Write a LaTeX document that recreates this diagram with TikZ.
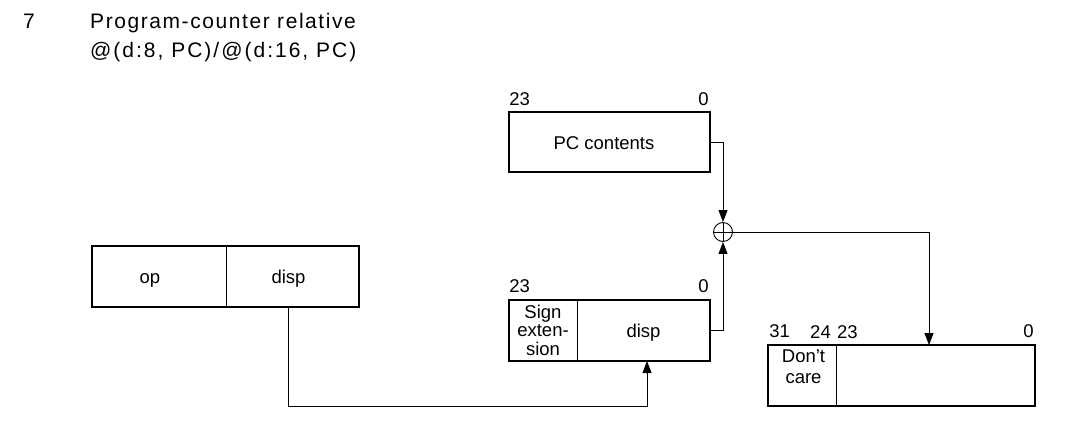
\documentclass[tikz,border=0pt]{standalone}
\usepackage{fontspec}
\setmainfont{Liberation Sans}
\newfontfamily\headfont[LetterSpace=7.5]{Liberation Sans}
\newfontfamily\modefont[LetterSpace=9.5]{Liberation Sans}
\usetikzlibrary{arrows.meta,calc}
\tikzset{
  reg/.style={draw, line width=1.5pt, rectangle, inner sep=0pt},
  lbl/.style={inner sep=0pt, font=\fontsize{18.5}{18.5}\selectfont, align=center},
  bitno/.style={inner sep=0pt, font=\fontsize{18.5}{18}\selectfont},
  head/.style={anchor=base west, inner sep=0pt, font=\headfont\fontsize{21}{24}\selectfont},
  conn/.style={line width=0.9pt},
  arr/.style={conn, -{Triangle[length=12pt,width=9pt]}},
  divider/.style={line width=0.9pt},
  summ/.style={draw, circle, line width=0.9pt, minimum size=19pt, inner sep=0pt,
    path picture={\draw[line width=0.9pt] (path picture bounding box.north) -- (path picture bounding box.south)
      (path picture bounding box.west) -- (path picture bounding box.east);}}
}
\begin{document}
\begin{tikzpicture}[x=1pt,y=-1pt]
\useasboundingbox (0,0) rectangle (1077,423);
% heading
\node[head] (num) at (23,28) {7};
\node[head] (title) at (90,28) {Program-counter relative};
\node[head, font=\modefont\fontsize{21}{24}\selectfont] (mode) at (90,57) {@(d:8, PC)/@(d:16, PC)};

% PC contents
\node[reg, minimum width=201pt, minimum height=60pt] (pc) at (609.5,142) {};
\node[lbl, anchor=base] (pctxt) at (604,149) {PC contents};
\node[bitno, anchor=base west] (pc23) at ($(pc.north west)+(1,-6)$) {23};
\node[bitno, anchor=base east] (pc0) at ($(pc.north east)+(-2,-6)$) {0};

% adder
\node[summ] (sum) at (723,232) {};

% sign-extended displacement
\node[reg, minimum width=201pt, minimum height=61pt] (se) at (609.5,330.5) {};
\coordinate (sediv) at (577,0);
\draw[divider] (se.north -| sediv) -- (se.south -| sediv);
\node[lbl, anchor=base] (setxt) at (543,355) {Sign\\exten-\\sion};
\node[lbl, anchor=base] (sedisp) at (643.5,337) {disp};
\node[bitno, anchor=base west] (se23) at ($(se.north west)+(1,-7)$) {23};
\node[bitno, anchor=base east] (se0) at ($(se.north east)+(-2,-7)$) {0};

% instruction op/disp
\node[reg, minimum width=267pt, minimum height=61pt] (ins) at (225.5,276.5) {};
\coordinate (insdiv) at (226,0);
\draw[divider] (ins.north -| insdiv) -- (ins.south -| insdiv);
\node[lbl, anchor=base] (op) at (150,283) {op};
\node[lbl, anchor=base] (disp) at (288.5,283) {disp};

% result
\node[reg, minimum width=267pt, minimum height=61pt] (res) at (901.5,375.5) {};
\coordinate (resdiv) at (836,0);
\draw[divider] (res.north -| resdiv) -- (res.south -| resdiv);
\node[lbl, anchor=base, font=\fontsize{18.5}{21}\selectfont] (dc) at (803.5,383) {Don’t\\care};
\node[bitno, anchor=base west] (r31) at ($(res.north west)+(2,-7)$) {31};
\node[bitno, anchor=base east] (r24) at (831,338) {24};
\node[bitno, anchor=base west] (r23) at (837,338) {23};
\node[bitno, anchor=base east] (r0) at ($(res.north east)+(-2,-7)$) {0};

% connectors
\coordinate (insout) at (288,307);
\coordinate (low) at (288,406);
\coordinate (sein) at (647,361);
\coordinate (resin) at (929,345);
\draw[arr] (pc.east) -| (sum.north);
\draw[arr] (se.east) -| (sum.south);
\draw[arr] (sum.east) -| (resin);
\draw[arr] (insout) -- (low) -| (sein);
\end{tikzpicture}
\end{document}
